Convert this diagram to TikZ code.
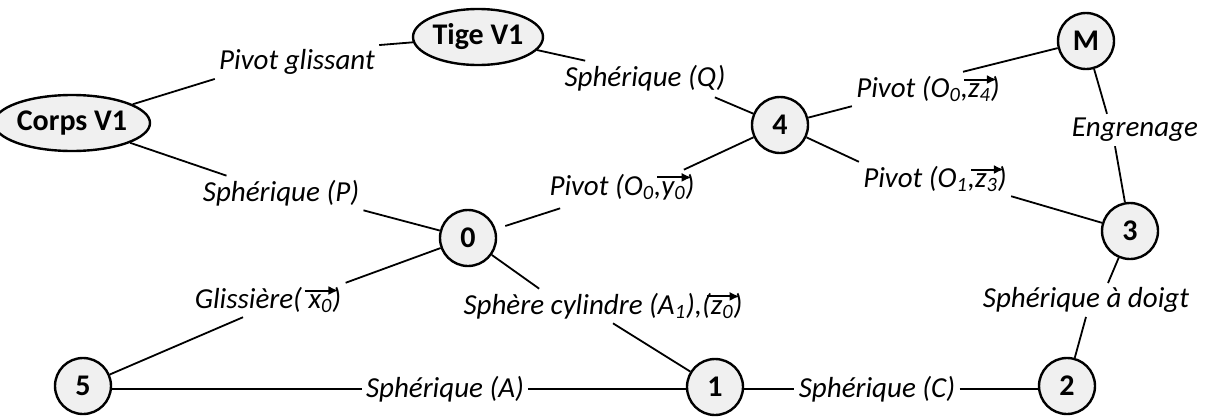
\documentclass[tikz,border=0pt]{standalone}
\usepackage{fontspec}
\setmainfont{Carlito}
\usetikzlibrary{shapes.geometric,arrows.meta,calc}
\newcommand\vv[1]{\tikz[baseline=(vt.base)]{\node[inner sep=0pt,outer sep=0pt] (vt) {#1};
  \draw[overlay,-{Latex[length=5pt,width=4.5pt]},line width=1pt] ([xshift=-2pt,yshift=2pt]vt.north west) -- ([xshift=3pt,yshift=2pt]vt.north east);}}
\begin{document}
\begin{tikzpicture}[x=0.5pt,y=-0.5pt,
  conn/.style={line width=0.9pt},
  circ/.style={circle,draw,line width=1.2pt,fill=gray!12,minimum size=28pt,inner sep=0pt,font=\bfseries\fontsize{15}{17}\selectfont},
  ell/.style={ellipse,draw,line width=1.2pt,fill=gray!12,minimum width=65pt,minimum height=28pt,inner sep=0pt,font=\bfseries\fontsize{15}{17}\selectfont},
  lbl/.style={inner sep=2pt,font=\itshape\fontsize{14.5}{17}\selectfont}]
\useasboundingbox (0,0) rectangle (1210,418);
% main nodes
\node[ell] (corps) at (72,123) {Corps V1};
\node[ell] (tige) at (478,37) {Tige V1};
\node[circ] (n4) at (780,125) {4};
\node[circ] (nM) at (1086,41) {M};
\node[circ] (n3) at (1130,231) {3};
\node[circ] (n2) at (1067,386) {2};
\node[circ] (n1) at (715,387) {1};
\node[circ] (n5) at (83,386) {5};
\node[circ] (n0) at (468,238) {0};
% labels
\node[lbl] (pg) at (297,62) {Pivot glissant};
\node[lbl] (sp) at (281,193) {Sphérique (P)};
\node[lbl] (sq) at (645,78) {Sphérique (Q)};
\node[lbl] (py) at (622,187) {Pivot (O\textsubscript{0},\vv{y\textsubscript{0}})};
\node[lbl] (pz4) at (928,89) {Pivot (O\textsubscript{0},\vv{z\textsubscript{4}})};
\node[lbl] (pz3) at (935,179) {Pivot (O\textsubscript{1},\vv{z\textsubscript{3}})};
\node[lbl] (en) at (1135,130) {Engrenage};
\node[lbl] (sd) at (1086,300) {Sphérique à doigt};
\node[lbl] (gl) at (268,300) {Glissière( \vv{x\textsubscript{0}})};
\node[lbl] (sc) at (603,306) {Sphère cylindre (A\textsubscript{1}),(\vv{z\textsubscript{0}})};
\node[lbl] (sa) at (445,389) {Sphérique (A)};
\node[lbl] (sC) at (877,389) {Sphérique (C)};
% connectors
\draw[conn] (corps) -- (pg.south west);
\draw[conn] (pg.north east) -- (tige);
\draw[conn] (tige) -- ($(sq.north west)+(25,0)$);
\draw[conn] ($(sq.south east)+(-15,2)$) -- (n4);
\draw[conn] (n4) -- ($(py.north east)+(-15,0)$);
\draw[conn,shorten >=5pt] ($(py.south west)+(15,4)$) -- (n0);
\draw[conn] (corps) -- ($(sp.north west)+(28,0)$);
\draw[conn] (sp.south east) -- (n0);
\draw[conn] (n0) -- (gl.north east);
\draw[conn] ($(gl.south)+(-25,0)$) -- (n5);
\draw[conn] (n0) -- ($(sc.north west)+(80,0)$);
\draw[conn] ($(sc.south)+(10,0)$) -- (n1);
\draw[conn] (n5.east |- sa.west) -- (sa.west);
\draw[conn] (sa.east) -- (n1.west |- sa.east);
\draw[conn] (n1.east |- sC.west) -- (sC.west);
\draw[conn] (sC.east) -- (n2.west |- sC.east);
\draw[conn] (n2) -- (sd.south);
\draw[conn] ($(sd.north)+(22,0)$) -- (n3);
\draw[conn] (n3) -- (pz3.south east);
\draw[conn] (pz3.north west) -- (n4);
\draw[conn] (n4) -- (pz4.south west);
\draw[conn] ($(pz4.north)+(35,0)$) -- (nM);
\draw[conn] (nM) -- ($(en.north)+(-28,0)$);
\draw[conn] ($(en.south)+(-20,0)$) -- (n3);
\end{tikzpicture}
\end{document}
